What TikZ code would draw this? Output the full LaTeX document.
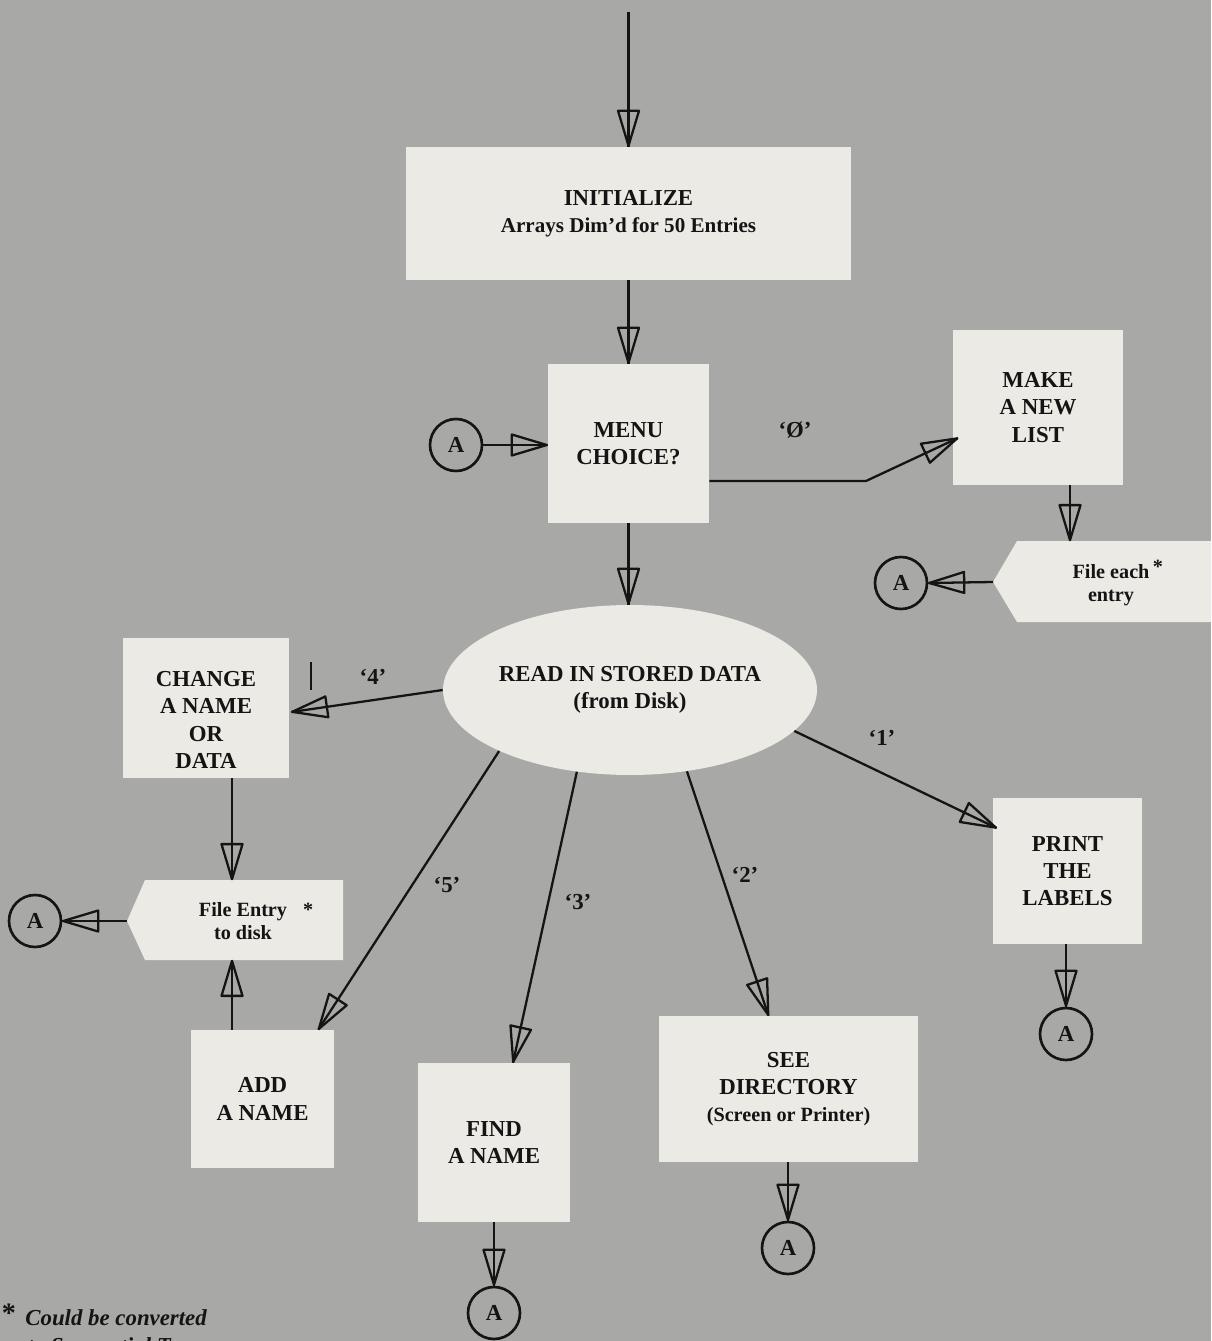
\documentclass[tikz,border=0pt]{standalone}
\usepackage{fontspec}
\setmainfont{Liberation Serif}
\usetikzlibrary{decorations.markings,calc,shapes.geometric}

\definecolor{bg}{RGB}{168,168,166}
\definecolor{boxc}{RGB}{236,234,228}
\definecolor{ink}{RGB}{20,20,20}

\tikzset{
  box/.style={fill=boxc, draw=none, align=center, inner sep=0pt, text=ink,
    font=\fontsize{13}{15.5}\selectfont\bfseries},
  lbl/.style={align=center, inner sep=0pt, text=ink,
    font=\fontsize{13}{15.5}\selectfont\bfseries},
  smalllbl/.style={align=center, inner sep=0pt, text=ink,
    font=\fontsize{11.5}{13}\selectfont\bfseries},
  acirc/.style={circle, draw=ink, line width=1.5pt, minimum size=1.04cm, inner sep=0pt,
    text=ink, font=\fontsize{13}{15}\selectfont\bfseries},
  conn/.style={draw=ink, line width=1.3pt, postaction={decorate},
    decoration={markings, mark=at position #1 with {
      \draw[ink, line width=1.3pt, line join=round]
        (0pt,0pt) -- (-0.7cm,0.21cm) -- (-0.7cm,-0.21cm) -- cycle;}}},
  conn/.default=-0.5pt,
  foot/.style={anchor=base west, inner sep=0pt, text=ink,
    font=\fontsize{13}{15}\selectfont\bfseries\itshape}
}

\begin{document}
\begin{tikzpicture}[x=0.02cm,y=-0.02cm]
\useasboundingbox (0,0) rectangle (1211,1341);
\clip (0,0) rectangle (1211,1341);
\fill[bg] (0,0) rectangle (1211,1341);

% boxes
\node[box, minimum width=8.9cm, minimum height=2.66cm] (init) at (628.5,213.5)
  {INITIALIZE\\{\fontsize{12}{15.5}\selectfont Arrays Dim’d for 50 Entries}};
\node[box, minimum width=3.22cm, minimum height=3.18cm] (menu) at (628.5,443.5)
  {MENU\\CHOICE?};
\node[box, minimum width=3.4cm, minimum height=3.1cm] (make) at (1038,407.5)
  {MAKE\\A NEW\\LIST};
\node[ellipse, fill=boxc, minimum width=7.48cm, minimum height=3.4cm, inner sep=0pt,
  align=center, text=ink, font=\fontsize{13}{15.5}\selectfont\bfseries] (read) at (630,690)
  {READ IN STORED DATA\\(from Disk)};
\node[box, minimum width=3.32cm, minimum height=2.8cm] (change) at (206,708) {};
\node[lbl] (changetext) at (206,720) {CHANGE\\A NAME\\OR\\DATA};
\node[box, minimum width=2.86cm, minimum height=2.76cm] (add) at (262.5,1099)
  {ADD\\A NAME};
\node[box, minimum width=3.04cm, minimum height=3.18cm] (find) at (494,1142.5)
  {FIND\\A NAME};
\node[box, minimum width=5.18cm, minimum height=2.92cm] (see) at (788.5,1089)
  {SEE\\DIRECTORY\\{\fontsize{11.5}{15.5}\selectfont (Screen or Printer)}};
\node[box, minimum width=2.98cm, minimum height=2.92cm] (print) at (1067.5,871)
  {PRINT\\THE\\LABELS};

% file shapes
\fill[boxc] (993,582) -- (1017,541) -- (1211,541) -- (1211,622) -- (1017,622) -- cycle;
\coordinate (fetip) at (993,582);
\coordinate (fetop) at (1070,541);
\node[smalllbl] (fetext) at (1111,583)
  {File each\rlap{\raisebox{3pt}{\,*}}\\entry};

\fill[boxc] (127,921) -- (145,880) -- (343,880) -- (343,960) -- (145,960) -- cycle;
\coordinate (fe2tip) at (127,921);
\coordinate (fe2top) at (232,880);
\coordinate (fe2bot) at (232,960);
\node[smalllbl] (fe2text) at (243,921)
  {File Entry\rlap{\hspace{0.32cm}*}\\to disk};

% connector circles
\node[acirc] (A1) at (456,445) {A};
\node[acirc] (A2) at (901,583) {A};
\node[acirc] (A3) at (35,921) {A};
\node[acirc] (A4) at (494,1313) {A};
\node[acirc] (A5) at (788,1248) {A};
\node[acirc] (A6) at (1066,1034) {A};

\coordinate (top) at (628.5,12);
\coordinate (bend) at (866,481);
\coordinate (makein) at (958,438);

% connectors
\draw[conn] (top) -- (init.north);
\draw[conn] (init.south) -- (menu.north);
\draw[conn] (A1.east) -- (A1.east -| menu.west);
\draw[conn] (menu.east |- bend) -- (bend) -- (makein);
\draw[conn] (make.south -| fetop) -- (fetop);
\draw[conn] (fetip) -- (A2.east);
\draw[conn] (menu.south) -- (menu.south |- read.north);
\draw[conn] (read.west) -- ($(change.east)+(2,4)$);
\draw[conn] (change.south -| fe2top) -- (fe2top);
\draw[conn] (fe2tip) -- (A3.east);
\draw[conn] (add.north -| fe2bot) -- (fe2bot);
\draw[conn] (read.205) -- ($(add.north east)+(-16,0)$);
\draw[conn] (read.237) -- ($(find.north)+(19,0)$);
\draw[conn] (read.-55) -- ($(see.north)+(-20,0)$);
\draw[conn] (read.-14) -- ($(print.west)+(4,-43)$);
\draw[conn] (print.south -| A6) -- (A6.north);
\draw[conn] (see.south -| A5) -- (A5.north);
\draw[conn] (find.south) -- (A4.north);

% stray pen mark
\draw[ink, line width=0.6pt] (311,662) -- (311,690);

% choice labels
\node[lbl] (l0) at (795,430) {‘Ø’};
\node[lbl] (l4) at (373,677) {‘4’};
\node[lbl] (l1) at (882,738) {‘1’};
\node[lbl] (l5) at (447,885) {‘5’};
\node[lbl] (l3) at (578,902) {‘3’};
\node[lbl] (l2) at (745,875) {‘2’};

% footnote
\node[inner sep=0pt, text=ink, font=\fontsize{16}{16}\selectfont\bfseries] (ast) at (9,1313) {*};
\node[foot] (fn1) at (25,1325) {Could be converted};
\node[foot] (fn2) at (27,1353) {to Sequential Type};
\end{tikzpicture}
\end{document}
